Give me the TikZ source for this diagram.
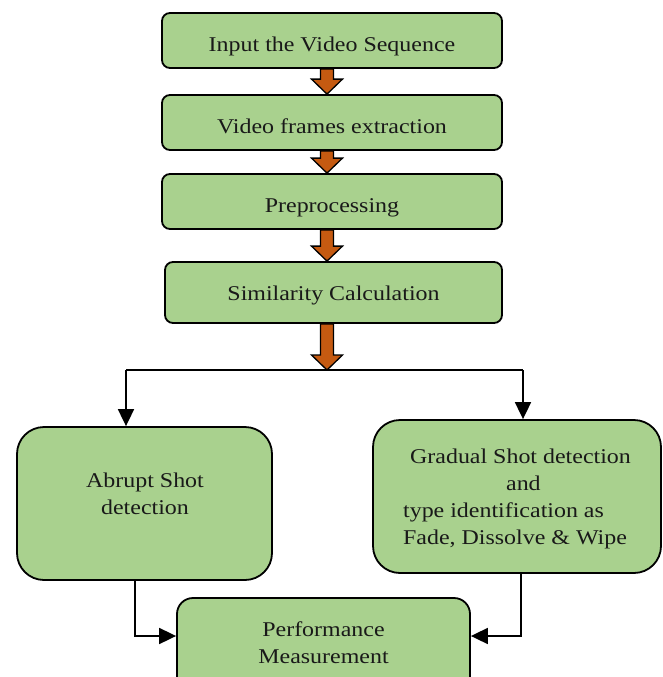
\documentclass[tikz,border=0pt]{standalone}
\usepackage{fontspec}
\setmainfont[FakeStretch=1.14]{Liberation Serif}
\usetikzlibrary{calc,arrows.meta}

\definecolor{boxgreen}{RGB}{169,209,142}
\definecolor{fatorange}{RGB}{197,90,17}
\definecolor{inktext}{RGB}{25,25,25}

% thick orange block arrow with a black outline, from point #1 down to point #2
\newcommand\fatarrow[2]{%
  \filldraw[fatstyle] let \p1=(#1), \p2=(#2) in
    (\x1-6.5pt,\y1) -- (\x1+6.5pt,\y1)
      -- (\x1+6.5pt,\y2+15pt) -- (\x1+15.5pt,\y2+15pt) -- (\x1,\y2)
      -- (\x1-15.5pt,\y2+15pt) -- (\x1-6.5pt,\y2+15pt) -- cycle;}

\begin{document}
\begin{tikzpicture}[x=1pt,y=-1pt,
  every node/.style={font=\fontsize{21}{27}\selectfont, text=inktext},
  stepbox/.style={draw=black, line width=1.8pt, fill=boxgreen,
    rounded corners=8pt, minimum width=340pt, minimum height=55pt, inner sep=0pt,
    text height=22pt, text depth=0pt},
  bigbox/.style={draw=black, line width=1.8pt, fill=boxgreen,
    rounded corners=27pt, inner sep=0pt},
  fatstyle/.style={fill=fatorange, draw=black, line width=1.3pt, line join=miter},
  conn/.style={draw=black, line width=1.8pt},
  tip/.style={-{Triangle[width=16pt,length=17pt]}}]

\useasboundingbox (0,0) rectangle (663,677);

% main chain
\node[stepbox] (in)     at (332,40.5)  {Input the Video Sequence};
\node[stepbox] (frames) at (332,122.5) {Video frames extraction};
\node[stepbox] (pre)    at (332,201.5) {Preprocessing};
\node[stepbox, minimum width=337pt, minimum height=61pt, text height=15pt] (sim) at (333.5,292.5) {Similarity Calculation};

% branch points
\coordinate (ax) at (327,0);
\coordinate (split) at (327,370);
\coordinate (lj) at (126,370);
\coordinate (rj) at (523,370);

% detection boxes
\node[bigbox, minimum width=255pt, minimum height=153pt] (abrupt) at (144.5,503.5) {};
\node[align=center] (abrupttext) at (145,493.5) {Abrupt Shot\\detection};

\node[bigbox, minimum width=288pt, minimum height=153pt] (gradual) at (517,496.5) {};
\node[align=left] (gradualtext) at (517,498.5)
  {\hspace*{7pt}Gradual Shot detection\\\hspace*{103pt}and\\type identification as\\Fade, Dissolve \& Wipe};

% result box, running off the lower edge
\node[bigbox, rounded corners=16pt, minimum width=293pt, minimum height=110pt] (perf) at (323.5,653) {};
\node[align=center] (perftext) at (323.5,643) {Performance\\Measurement};

% block arrows between the steps
\fatarrow{in.south -| ax}{frames.north -| ax}
\fatarrow{frames.south -| ax}{pre.north -| ax}
\fatarrow{pre.south -| ax}{sim.north -| ax}
\fatarrow{sim.south -| ax}{split}

% distribution line
\draw[conn] (lj) -- (rj);
\draw[conn, tip] (lj) -- (lj |- abrupt.north);
\draw[conn, tip] (rj) -- (rj |- gradual.north);

% into the measurement box
\draw[conn, tip] (abrupt.south -| 135,0) |- (perf.west |- 0,636);
\draw[conn, tip] (gradual.south -| 521,0) |- (perf.east |- 0,636);
\end{tikzpicture}
\end{document}
